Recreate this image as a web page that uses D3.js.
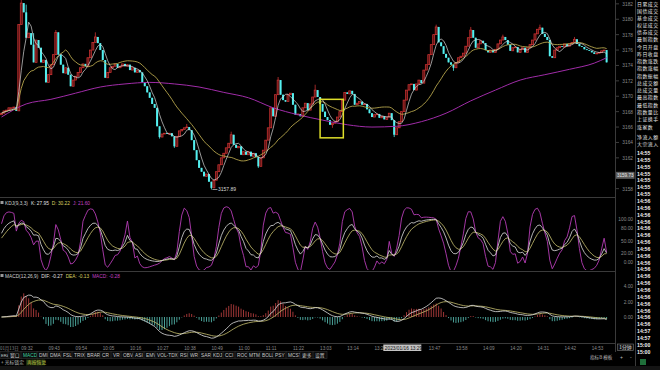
<!DOCTYPE html>
<html><head><meta charset="utf-8">
<script src="https://cdn.jsdelivr.net/npm/d3@7"></script>
<style>
html,body{margin:0;padding:0;background:#000;overflow:hidden;}
svg{display:block;}
</style></head><body>
<svg id="c" width="660" height="370"></svg>
<script>
// ---------- DATA ----------
const prevOpen = 3167.6;
const closes = [
3167.8,3168.1,3168.2,3168.5,3168.5,3168.6,3168.1,3179.3,3182.1,3180.9,
3177.6,3178.2,3176.7,3174.4,3177.3,3176.3,3174.4,3174.7,3171.8,3172.8,
3174.1,3175.4,3178.3,3175.4,3174.1,3173.0,3173.7,3172.8,3171.3,3172.1,
3172.6,3173.1,3173.7,3174.2,3173.9,3175.0,3176.0,3177.0,3177.7,3176.9,
3176.0,3174.7,3172.4,3173.1,3173.7,3173.9,3174.2,3173.7,3173.9,3174.2,
3173.9,3174.1,3173.4,3173.7,3173.1,3173.4,3173.1,3171.8,3171.3,3170.5,
3169.8,3169.0,3168.5,3166.1,3164.7,3165.1,3165.2,3165.1,3165.2,3164.8,
3163.5,3164.8,3165.5,3165.7,3165.9,3166.0,3165.6,3164.3,3163.0,3161.7,
3160.7,3160.2,3159.6,3159.9,3158.9,3158.1,3159.1,3160.2,3161.1,3162.0,
3162.6,3163.3,3163.9,3165.0,3163.7,3163.3,3163.5,3162.4,3162.8,3162.4,
3162.8,3162.2,3162.6,3162.1,3160.9,3162.0,3163.0,3164.3,3165.9,3168.5,
3167.4,3170.2,3172.1,3170.2,3169.5,3169.3,3170.2,3170.4,3168.9,3167.6,
3167.7,3167.4,3168.5,3169.1,3168.2,3169.0,3169.9,3170.8,3169.9,3169.0,
3168.0,3167.3,3166.9,3166.3,3166.5,3166.7,3167.3,3168.0,3169.5,3170.5,
3170.3,3170.7,3170.3,3168.9,3169.1,3169.3,3168.9,3169.0,3168.3,3167.8,
3167.3,3167.6,3167.7,3167.2,3167.4,3167.0,3167.3,3167.8,3166.9,3165.0,
3165.9,3166.7,3168.0,3169.5,3170.8,3171.5,3171.6,3170.8,3171.6,3172.1,
3171.7,3173.4,3174.1,3175.4,3176.7,3178.0,3179.0,3177.0,3176.5,3175.5,
3175.0,3174.4,3174.1,3173.7,3174.4,3175.0,3175.2,3175.6,3176.5,3177.6,
3178.6,3177.6,3176.3,3176.8,3177.2,3176.9,3176.0,3175.7,3176.0,3175.7,
3176.1,3176.8,3177.3,3177.7,3177.3,3176.7,3175.9,3176.3,3176.4,3175.7,
3176.1,3176.3,3175.7,3176.3,3176.7,3177.3,3178.1,3178.7,3178.9,3178.1,
3177.7,3177.3,3175.2,3175.0,3176.0,3176.3,3176.5,3176.4,3176.8,3176.5,
3176.8,3177.0,3177.4,3176.8,3176.5,3176.4,3176.1,3176.0,3175.9,3175.7,
3175.5,3175.6,3175.7,3175.9,3176.0,3174.4
];
const wickHighs = [[8,3182.5],[10,3181.9],[13,3178.2],[22,3178.6],[38,3178.3],[75,3166.4],[93,3165.4],[112,3172.5],[127,3171.5],[176,3179.3],[190,3179.0],[203,3178.0],[218,3179.3],[232,3177.7]];
const wickLows = [[64,3164.5],[70,3163.3],[85,3157.89],[104,3160.7],[134,3165.9],[159,3164.7],[183,3173.3]];
const lowMark = [85, 3157.89];
const maLongBars = [0,10,20,30,40,50,60,70,80,90,100,110,120,130,140,150,160,170,180,190,200,210,220,230,240,245];
const maLongVals = [3167.3,3169.0,3169.6,3170.4,3171.2,3171.6,3171.8,3171.6,3171.2,3170.5,3169.8,3168.5,3167.6,3166.9,3166.3,3166.0,3166.1,3166.7,3167.8,3169.4,3170.8,3172.1,3172.8,3173.5,3174.3,3175.0];
const boxBars = [129, 138];
const boxPrices = [3169.6, 3164.6];
const priceTicks = [3182,3180,3178,3176,3174,3172,3170,3168,3166,3164,3162,3160,3158];
const kdjTicks = [100,80,50,20,0];
const macdTicks = [4,2,0];
const timeTickBars = [8,19,30,41,52,63,74,85,96,107,118,129,140,151,162,173,184,195,206,217,228,239];
const timeTickLabels = ["09:32","09:43","09:54","10:05","10:16","10:27","10:38","10:49","11:00","11:11","11:22","13:03","13:14","13:25","13:36","13:47","13:58","14:09","14:20","14:31","14:42","14:53"];
const dateLabel = "01月13日";
const cursorBar = 155, cursorText = "2023/01/16 13:29", cursorPrice = 3159.73;
const kdjTitle = ["KDJ(9,3,3)", "K: 27.95", "D: 30.22", "J: 21.60"];
const macdTitle = ["MACD(12,26,9)", "DIF: -0.27", "DEA: -0.13", "MACD: -0.28"];
const sideLabels = ["日累成交","国债成交","基金成交","权证成交","债券成交","最新指数","今日开盘","昨日收盘","指数涨跌","指数涨幅","指数振幅","总成交额","总成交量","最高指数","最低指数","指数量比","上证换手","涨家数","净流入额","大宗流入"];
const sideTimes = ["14:55","14:55","14:55","14:55","14:55","14:55","14:55","14:56","14:56","14:56","14:56","14:56","14:56","14:56","14:56","14:56","14:56","14:56","14:56","14:56","14:56","14:56","14:56","14:56","14:56","14:56","14:57","14:57","15:00","15:00"];
const tabs = ["ERA","窗口","MACD","DMI","DMA","FSL","TRIX","BRAR","CR","VR","OBV","ASI","EMV","VOL-TDX","RSI","WR","SAR","KDJ","CCI","ROC","MTM","BOLL","PSY","MCST","更多","设置"];

// ---------- DERIVED ----------
const N = closes.length;
const opens = closes.map((c,i)=> i===0 ? prevOpen : closes[i-1]);
const hiMap = new Map(wickHighs), loMap = new Map(wickLows);
const highs = closes.map((c,i)=> Math.max(c, opens[i], hiMap.has(i)?hiMap.get(i):-Infinity));
const lows = closes.map((c,i)=> Math.min(c, opens[i], loMap.has(i)?loMap.get(i):Infinity));
function ma(n){ return closes.map((c,i)=>{ const s=Math.max(0,i-n+1); return d3.mean(closes.slice(s,i+1)); }); }
const ma5 = ma(5), ma20 = ma(20);
function ema(arr,n){ const out=[]; arr.forEach((v,i)=>{ out.push(i===0?v:(2*v+(n-1)*out[i-1])/(n+1)); }); return out; }
const e12 = ema(closes,12), e26 = ema(closes,26);
const dif = closes.map((c,i)=>e12[i]-e26[i]);
const dea = ema(dif,9);
const macd = dif.map((v,i)=>2*(v-dea[i]));
const K=[],D=[],J=[];
closes.forEach((c,i)=>{
  const s=Math.max(0,i-8);
  const lo=d3.min(lows.slice(s,i+1)), hi=d3.max(highs.slice(s,i+1));
  const rsv = hi===lo?50:(c-lo)/(hi-lo)*100;
  const k=(2*(i?K[i-1]:50)+rsv)/3, d=(2*(i?D[i-1]:50)+k)/3;
  K.push(k); D.push(d); J.push(3*k-2*d);
});

// ---------- DRAW ----------
const svg = d3.select("#c");
const FONT = "'Liberation Sans','DejaVu Sans',sans-serif";
const CJK = "'Noto Sans CJK SC','Noto Sans',sans-serif";
svg.append("rect").attr("width",660).attr("height",370).attr("fill","#000");
const defs = svg.append("defs");
const x = d3.scaleLinear().domain([0,N-1]).range([1.5,606.6]);
const y = d3.scaleLinear().domain([3182.5,3157.5]).range([0,192.5]);
const yk = d3.scaleLinear().domain([0,100]).range([262,219]);
const ym = d3.scaleLinear().domain([0,4]).range([317,286]);
const cx = x(cursorBar);
[["cm",0,0,615,197],["ck",0,199,615,71],["cd",0,272,615,71],["ct",0,340,cx-1,14]].forEach(([id,x0,y0,w,h])=>{
  defs.append("clipPath").attr("id",id).append("rect").attr("x",x0).attr("y",y0).attr("width",w).attr("height",h);
});

// frame lines
const frame = svg.append("g").attr("stroke","#3a3a3a").attr("stroke-width",1);
[197.5,271.5,343.5].forEach(v=>frame.append("line").attr("x1",0).attr("x2",615).attr("y1",v).attr("y2",v));
frame.append("line").attr("x1",615.5).attr("x2",615.5).attr("y1",0).attr("y2",352);
frame.append("line").attr("x1",635.5).attr("x2",635.5).attr("y1",0).attr("y2",366);

// main panel
const gm = svg.append("g").attr("clip-path","url(#cm)");
const cand = gm.selectAll("g.c").data(d3.range(N)).join("g");
cand.append("line").attr("x1",i=>x(i)).attr("x2",i=>x(i))
  .attr("y1",i=>y(highs[i])).attr("y2",i=>y(lows[i]))
  .attr("stroke",i=>closes[i]>=opens[i]?"#c83232":"#54f0f0").attr("stroke-width",0.8);
cand.append("rect")
  .attr("x",i=>x(i)-1).attr("width",2)
  .attr("y",i=>y(Math.max(opens[i],closes[i])))
  .attr("height",i=>Math.max(0.8,Math.abs(y(opens[i])-y(closes[i]))))
  .attr("fill",i=>closes[i]>=opens[i]?"#5a1414":"#54f0f0")
  .attr("stroke",i=>closes[i]>=opens[i]?"#d03434":"none").attr("stroke-width",0.7);
const lineP = d3.line().x((d,i)=>x(i)).y(d=>y(d));
gm.append("path").attr("d",d3.line().x((d,i)=>x(maLongBars[i])).y(d=>y(d)).curve(d3.curveMonotoneX)(maLongVals))
  .attr("fill","none").attr("stroke","#a02ca8").attr("stroke-width",1);
gm.append("path").attr("d",lineP(ma20)).attr("fill","none").attr("stroke","#b4a44c").attr("stroke-width",0.9);
gm.append("path").attr("d",lineP(ma5)).attr("fill","none").attr("stroke","#d8d8d8").attr("stroke-width",0.7);
// highlight box
svg.append("rect").attr("x",x(boxBars[0])).attr("y",y(boxPrices[0]))
  .attr("width",x(boxBars[1])-x(boxBars[0])+1).attr("height",y(boxPrices[1])-y(boxPrices[0]))
  .attr("fill","none").attr("stroke","#dede2a").attr("stroke-width",1.5);
// low marker
const lx=x(lowMark[0]), ly=y(lowMark[1]);
svg.append("line").attr("x1",lx+1).attr("x2",lx+6).attr("y1",ly).attr("y2",ly).attr("stroke","#cfcfcf").attr("stroke-width",0.7);
svg.append("text").attr("x",lx+6.5).attr("y",ly+1.8).text(d3.format(".2f")(lowMark[1]))
  .attr("fill","#d8d8d8").attr("font-size",5).attr("font-family",FONT);

// price axis (the tick hidden under the cursor price box is skipped)
const cy = y(cursorPrice);
const ax = svg.append("g").attr("transform","translate(633,0)")
  .call(d3.axisLeft(y).tickValues(priceTicks.filter(t=>Math.abs(y(t)-cy)>6)).tickFormat(d3.format("d")).tickSize(0).tickPadding(0));
ax.select(".domain").remove();
ax.selectAll("text").attr("fill","#8a8a8a").attr("font-size",4.8).attr("font-family",FONT);
svg.append("g").selectAll("line").data(priceTicks).join("line")
  .attr("x1",616).attr("x2",619).attr("y1",d=>y(d)).attr("y2",d=>y(d)).attr("stroke","#666").attr("stroke-width",0.6);
svg.append("rect").attr("x",616).attr("y",cy-3.5).attr("width",18.5).attr("height",7).attr("fill","#5c5c5c");
svg.append("text").attr("x",633.5).attr("y",cy+1.8).attr("text-anchor","end").text(d3.format(".2f")(cursorPrice))
  .attr("fill","#e8e8e8").attr("font-size",4.6).attr("font-family",FONT);

// KDJ panel
const gk = svg.append("g").attr("clip-path","url(#ck)");
const lineK = d3.line().x((d,i)=>x(i)).y(d=>yk(d));
gk.append("path").attr("d",lineK(J)).attr("fill","none").attr("stroke","#b43cb4").attr("stroke-width",0.9);
gk.append("path").attr("d",lineK(D)).attr("fill","none").attr("stroke","#c8c070").attr("stroke-width",0.8);
gk.append("path").attr("d",lineK(K)).attr("fill","none").attr("stroke","#e0e0e0").attr("stroke-width",0.8);
const axk = svg.append("g").attr("transform","translate(633,0)")
  .call(d3.axisLeft(yk).tickValues(kdjTicks).tickFormat(d3.format(".2f")).tickSize(0).tickPadding(0));
axk.select(".domain").remove();
axk.selectAll("text").attr("fill","#8a8a8a").attr("font-size",4.8).attr("font-family",FONT);

// MACD panel
const gd = svg.append("g").attr("clip-path","url(#cd)");
gd.selectAll("line.h").data(d3.range(N)).join("line")
  .attr("x1",i=>x(i)).attr("x2",i=>x(i)).attr("y1",ym(0)).attr("y2",i=>ym(macd[i]))
  .attr("stroke",i=>macd[i]>=0?"#c84444":"#5cc8bc").attr("stroke-width",0.8);
const lineM = d3.line().x((d,i)=>x(i)).y(d=>ym(d));
gd.append("path").attr("d",lineM(dea)).attr("fill","none").attr("stroke","#c8c070").attr("stroke-width",0.8);
gd.append("path").attr("d",lineM(dif)).attr("fill","none").attr("stroke","#e0e0e0").attr("stroke-width",0.8);
const axm = svg.append("g").attr("transform","translate(633,0)")
  .call(d3.axisLeft(ym).tickValues(macdTicks).tickFormat(d3.format(".2f")).tickSize(0).tickPadding(0));
axm.select(".domain").remove();
axm.selectAll("text").attr("fill","#8a8a8a").attr("font-size",4.8).attr("font-family",FONT);

// titles
function title(yy, parts, cols){
  svg.append("rect").attr("x",0.5).attr("y",yy-3.5).attr("width",3).attr("height",3).attr("fill","#9a9a9a");
  const t = svg.append("text").attr("x",5).attr("y",yy).attr("font-size",4.8).attr("font-family",FONT);
  parts.forEach((p,i)=>t.append("tspan").attr("dx",i?3:0).attr("fill",cols[i]).text(p));
}
title(204.5, kdjTitle, ["#cfcfcf","#e0e0e0","#d8d060","#c040c0"]);
title(277.5, macdTitle, ["#cfcfcf","#e0e0e0","#d8d060","#c040c0"]);

// time axis (labels under the cursor box are hidden, as in the terminal)
svg.append("text").attr("x",0).attr("y",349.5).text(dateLabel).attr("fill","#8a8a8a").attr("font-size",4.4).attr("font-family",CJK);
const shown = timeTickBars.map((b,i)=>[b,timeTickLabels[i]]).filter(([b])=> x(b) < cx-6 || x(b) > cx+38);
svg.append("g").selectAll("text").data(shown).join("text")
  .attr("x",d=>x(d[0])).attr("y",349.5).text(d=>d[1])
  .attr("fill","#8a8a8a").attr("font-size",4.6).attr("font-family",FONT);
const partial = timeTickBars.map((b,i)=>[b,timeTickLabels[i]]).filter(([b])=> x(b) >= cx-6 && x(b) < cx);
svg.append("g").attr("clip-path","url(#ct)").selectAll("text").data(partial).join("text")
  .attr("x",d=>x(d[0])).attr("y",349.5).text(d=>d[1].slice(0,4))
  .attr("fill","#8a8a8a").attr("font-size",4.6).attr("font-family",FONT);
svg.append("rect").attr("x",cx-1).attr("y",344.5).attr("width",38).attr("height",6.5).attr("fill","#c4c4c4");
svg.append("text").attr("x",cx+0.5).attr("y",349.5).text(cursorText).attr("fill","#111").attr("font-size",4.8).attr("font-family",FONT);
svg.append("rect").attr("x",617.5).attr("y",344).attr("width",16).attr("height",6.5).attr("fill","#111").attr("stroke","#777").attr("stroke-width",0.6);
svg.append("text").attr("x",625.5).attr("y",349.3).attr("text-anchor","middle").text("1分钟").attr("fill","#e8e8e8").attr("font-size",4.8).attr("font-family",CJK);
svg.append("text").attr("x",590).attr("y",359).text("指标B  模板").attr("fill","#bbbbbb").attr("font-size",4.6).attr("font-family",CJK);
svg.append("text").attr("x",620).attr("y",359).text("+").attr("fill","#bbbbbb").attr("font-size",5).attr("font-family",FONT);
svg.append("text").attr("x",630).attr("y",359).text("-").attr("fill","#bbbbbb").attr("font-size",5).attr("font-family",FONT);

// tabs row
const tabX = [1,10,23,39,50,63,74,87,102,113,123,135,146,157,180,190,201,213,225,237,249,262,275,288,302,315];
const tg = svg.append("g");
tabs.forEach((t,i)=>{
  const x0 = Math.max(0,tabX[i]-2), x1 = (i<tabs.length-1? tabX[i+1]-1.5 : 327);
  tg.append("rect").attr("x",x0).attr("y",351.5).attr("width",x1-x0).attr("height",7).attr("fill","#0c0c0c").attr("stroke","#333").attr("stroke-width",0.6);
  tg.append("text").attr("x",tabX[i]).attr("y",357).text(t)
    .attr("fill",t==="MACD"?"#3cd0a0":"#c8c8c8").attr("font-size",t==="ERA"?4.2:4.8)
    .attr("font-family",/[\u4e00-\u9fff]/.test(t)?CJK:FONT);
});
svg.append("text").attr("x",1).attr("y",364).text("+  光标锁定").attr("fill","#bcbcbc").attr("font-size",4.8).attr("font-family",CJK);
svg.append("rect").attr("x",26).attr("y",359.5).attr("width",19).attr("height",6).attr("fill","#1e2a10");
svg.append("text").attr("x",27).attr("y",364).text("再按恢复").attr("fill","#b8c040").attr("font-size",4.8).attr("font-family",CJK);
svg.append("rect").attr("x",0).attr("y",366).attr("width",660).attr("height",4).attr("fill","#141414");

// right info panel
const sideY = [4,11,18,25,32,39,46.5,53.5,61,68,75.5,83,90,97,104.5,112,119,126.5,136.5,144];
svg.append("g").selectAll("text").data(sideLabels).join("text")
  .attr("x",637).attr("y",(d,i)=>sideY[i]+2).text(d=>d)
  .attr("fill","#e6e6e6").attr("font-size",4.9).attr("letter-spacing",0.5).attr("font-family",CJK);
svg.append("g").selectAll("text").data(sideTimes).join("text")
  .attr("x",637).attr("y",(d,i)=>153+i*6.85+2).text(d=>d)
  .attr("fill","#f0f0f0").attr("font-size",5.2).attr("font-weight","bold").attr("font-family",FONT);
svg.append("rect").attr("x",640).attr("y",359).attr("width",6).attr("height",6).attr("fill","#1f6f3a");
</script>
</body></html>
